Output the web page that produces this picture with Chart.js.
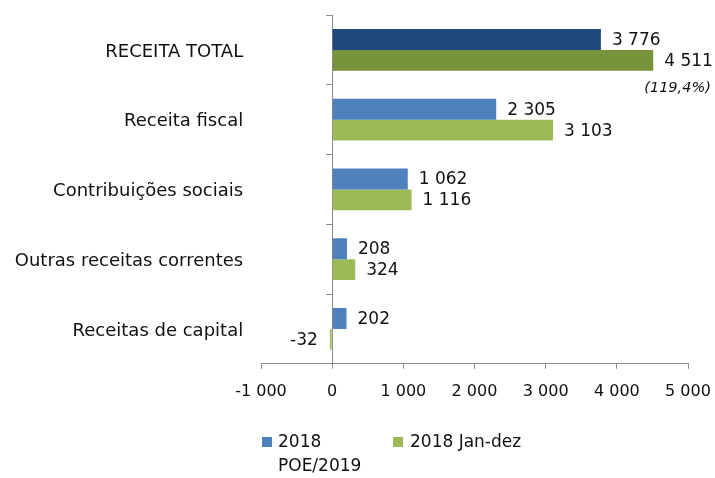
<!DOCTYPE html>
<html>
<head>
<meta charset="utf-8">
<script src="https://cdn.jsdelivr.net/npm/chart.js@4"></script>
<style>
  html, body { margin: 0; padding: 0; background: #fff; }
  #wrap { width: 715px; height: 478px; }
</style>
</head>
<body>
<div id="wrap"><canvas id="myChart" width="715" height="478"></canvas></div>
<script>
// chart values
var categories = ["RECEITA TOTAL", "Receita fiscal", "Contribuições sociais", "Outras receitas correntes", "Receitas de capital"];
var poe2019 = [3776, 2305, 1062, 208, 202];
var janDez = [4511, 3103, 1116, 324, -32];
var seriesNames = [["2018", "POE/2019"], ["2018 Jan-dez"]];
var xTicks = [-1000, 0, 1000, 2000, 3000, 4000, 5000];
var totalNote = "(119,4%)";

var FONT = "'DejaVu Sans', sans-serif";
var GREY = "#8c8c8c";

function fmt(v) {
  var s = String(Math.abs(v)).replace(/\B(?=(\d{3})+(?!\d))/g, " ");
  return (v < 0 ? "-" : "") + s;
}

var labelsPlugin = {
  id: "labels",
  afterDraw(chart) {
    var ctx = chart.ctx;
    var y = chart.scales.y;
    var x = chart.scales.x;
    var x0 = x.getPixelForValue(0);
    ctx.save();
    ctx.fillStyle = "#111";
    // category labels, left of the axis
    ctx.font = "18px " + FONT;
    ctx.textAlign = "right";
    ctx.textBaseline = "middle";
    categories.forEach(function (c, i) {
      ctx.fillText(c, x0 - 89, y.getPixelForValue(i) + 2);
    });
    // value labels
    ctx.font = "17px " + FONT;
    chart.data.datasets.forEach(function (ds, di) {
      chart.getDatasetMeta(di).data.forEach(function (bar, i) {
        var v = ds.data[i];
        if (v >= 0) {
          ctx.textAlign = "left";
          ctx.fillText(fmt(v), bar.x + 11, bar.y + 1);
        } else {
          ctx.textAlign = "right";
          ctx.fillText(fmt(v), bar.x - 12, bar.y + 1);
        }
        if (di === 1 && i === 0) {
          var w = ctx.measureText(fmt(v)).width;
          ctx.font = "italic 14.5px " + FONT;
          ctx.textAlign = "right";
          ctx.fillText(totalNote, bar.x + 11 + w - 2, bar.y + 28);
          ctx.font = "17px " + FONT;
        }
      });
    });
    // legend
    ctx.font = "17px " + FONT;
    ctx.textAlign = "left";
    var lx = [262, 393];
    seriesNames.forEach(function (name, i) {
      ctx.fillStyle = i === 0 ? "#4f81bd" : "#9bbb59";
      ctx.fillRect(lx[i], 437, 10, 10);
      ctx.fillStyle = "#111";
      name.forEach(function (line, k) {
        ctx.fillText(line, lx[i] + (i === 0 ? 16 : 17), 443 + k * 24);
      });
    });
    ctx.restore();
  }
};

var ctx = document.getElementById("myChart");

new Chart(ctx, {
  type: "bar",
  data: {
    labels: categories,
    datasets: [
      {
        label: seriesNames[0].join(" "),
        data: poe2019,
        backgroundColor: poe2019.map(function (v, i) { return i === 0 ? "#1f497d" : "#4f81bd"; }),
        categoryPercentage: 0.6,
        barPercentage: 1.0,
      },
      {
        label: seriesNames[1].join(" "),
        data: janDez,
        backgroundColor: janDez.map(function (v, i) { return i === 0 ? "#77933c" : "#9bbb59"; }),
        categoryPercentage: 0.6,
        barPercentage: 1.0,
      },
    ],
  },
  options: {
    indexAxis: "y",
    responsive: false,
    animation: false,
    layout: { padding: { left: 261, right: 27, top: 15, bottom: 64 } },
    plugins: {
      legend: { display: false },
      tooltip: { enabled: false },
    },
    scales: {
      x: {
        min: -1000,
        max: 5000,
        afterBuildTicks: function (scale) {
          scale.ticks = xTicks.map(function (v) { return { value: v }; });
        },
        afterFit: function (scale) {
          scale.paddingLeft = 0;
          scale.paddingRight = 0;
        },
        grid: { drawOnChartArea: false, color: GREY, tickLength: 5 },
        border: { color: GREY },
        ticks: {
          color: "#111",
          padding: 13,
          maxRotation: 0,
          font: { family: FONT, size: 16 },
          callback: function (v) { return fmt(v); },
        },
      },
      y: {
        position: { x: 0 },
        grid: { drawOnChartArea: false, color: GREY, tickLength: 6, offset: true },
        border: { color: GREY },
        ticks: { display: false },
      },
    },
  },
  plugins: [labelsPlugin],
});
</script>
</body>
</html>
